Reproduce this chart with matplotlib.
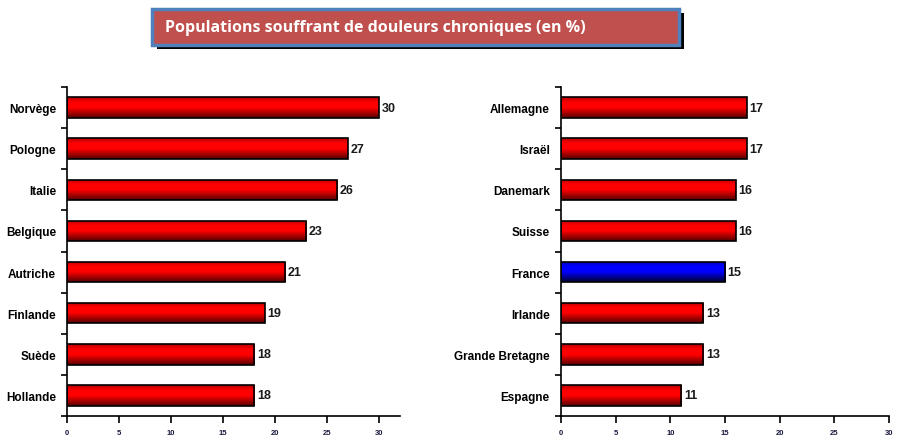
import numpy as np
import matplotlib.pyplot as plt
from matplotlib.patches import Rectangle

plt.rcParams['font.family'] = ['Liberation Sans', 'DejaVu Sans']

# données
pays_gauche = ['Norvège', 'Pologne', 'Italie', 'Belgique', 'Autriche', 'Finlande', 'Suède', 'Hollande']
valeurs_gauche = [30, 27, 26, 23, 21, 19, 18, 18]
pays_droite = ['Allemagne', 'Israël', 'Danemark', 'Suisse', 'France', 'Irlande', 'Grande Bretagne', 'Espagne']
valeurs_droite = [17, 17, 16, 16, 15, 13, 13, 11]
surligne = 'France'
titre = 'Populations souffrant de douleurs chroniques (en %)'


def degrade(couleur_haut, couleur_bas, n=64):
    haut = np.array(plt.matplotlib.colors.to_rgb(couleur_haut))
    bas = np.array(plt.matplotlib.colors.to_rgb(couleur_bas))
    t = np.concatenate([np.linspace(0.55, 1, n // 4), np.ones(n // 4), np.linspace(1, 0.0, n - 2 * (n // 4))])
    img = bas + (haut - bas) * t[:, None]
    return img[:, None, :]


def dessiner(ax, pays, valeurs, xmax, ticks_max):
    y = np.arange(len(pays))
    barres = ax.barh(y, valeurs, height=0.5, color='none', edgecolor='black', linewidth=1.2, zorder=3)
    for nom, b in zip(pays, barres):
        if nom == surligne:
            img = degrade('#0000ff', '#000033')
        else:
            img = degrade('#ff0000', '#550000')
        x0, y0, w, h = b.get_x(), b.get_y(), b.get_width(), b.get_height()
        im = ax.imshow(img, extent=[x0, x0 + w, y0 + h, y0], aspect='auto', zorder=2,
                       interpolation='bilinear')
        im.set_clip_path(b)
        ax.text(x0 + w + 0.25, b.get_y() + h / 2, str(int(w)), va='center', ha='left',
                fontsize=9, fontweight='bold', color='#1a1a1a')
    ax.set_xlim(0, xmax)
    ax.set_ylim(len(pays) - 0.5, -0.5)
    ax.set_xticks(np.arange(0, ticks_max + 1, 5))
    ax.set_yticks(np.arange(len(pays) + 1) - 0.5)
    ax.set_yticks(y, minor=True)
    ax.set_yticklabels([], minor=False)
    ax.set_yticklabels(pays, minor=True, fontsize=8.5, fontweight='bold')
    ax.tick_params(axis='y', which='minor', length=0, pad=8)
    ax.tick_params(axis='y', which='major', length=4, width=1.2, direction='out')
    ax.tick_params(axis='x', length=5, width=1.2, direction='out', labelsize=5.5, pad=4,
                   labelcolor='#1a1a40')
    for lab in ax.get_xticklabels():
        lab.set_fontweight('bold')
    ax.spines['top'].set_visible(False)
    ax.spines['right'].set_visible(False)
    ax.spines['left'].set_linewidth(1.2)
    ax.spines['bottom'].set_linewidth(1.2)


fig = plt.figure(figsize=(8.97, 4.39), dpi=100)
ax1 = fig.add_axes([0.0747, 0.0501, 0.371, 0.7494])
ax2 = fig.add_axes([0.6254, 0.0501, 0.3657, 0.7494])
dessiner(ax1, pays_gauche, valeurs_gauche, 32, 30)
dessiner(ax2, pays_droite, valeurs_droite, 30, 30)

# cadre du titre
W, H = 897, 439
fig.patches.append(Rectangle((157 / W, 1 - 50 / H), 527 / W, 36 / H, transform=fig.transFigure,
                             facecolor='black', edgecolor='none', zorder=0))
fig.patches.append(Rectangle((152 / W, 1 - 46 / H), 527 / W, 36 / H, transform=fig.transFigure,
                             facecolor='#C0504D', edgecolor='#4F81BD', linewidth=2.5, zorder=1))
fig.text(165 / W, 1 - 28 / H, titre, ha='left', va='center', color='white',
         fontsize=11.5, fontweight='bold', family=['Open Sans', 'DejaVu Sans'])

fig.savefig('out.png', dpi=100)
